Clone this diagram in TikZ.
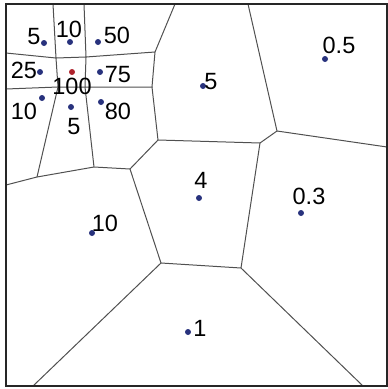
\documentclass[tikz,border=0pt]{standalone}
\usepackage{fontspec}
\setmainfont{Liberation Sans}
\definecolor{edgegray}{RGB}{80,80,80}
\definecolor{sitenavy}{RGB}{40,50,125}
\definecolor{sitered}{RGB}{175,35,45}
\begin{document}
\begin{tikzpicture}[x=1pt,y=-1pt,
  cell/.style={draw=edgegray,line width=1pt},
  frame/.style={draw=black!85,line width=1.7pt},
  site/.style={circle,fill=sitenavy,inner sep=0pt,minimum size=6pt},
  hub/.style={circle,fill=sitered,inner sep=0pt,minimum size=6pt},
  val/.style={inner sep=0pt,font=\fontsize{23.5}{23.5}\selectfont}]
\useasboundingbox (0,0) rectangle (388,389);
% frame corners and border points
\coordinate (tl) at (6,4); \coordinate (tr) at (387,4);
\coordinate (br) at (387,386); \coordinate (bl) at (6,386);
\coordinate (t1) at (53,4); \coordinate (t2) at (84,4);
\coordinate (t3) at (175,4); \coordinate (t4) at (248,4);
\coordinate (l1) at (6,53); \coordinate (l2) at (6,89); \coordinate (l3) at (6,185);
\coordinate (r1) at (387,147);
\coordinate (b1) at (33,386); \coordinate (b2) at (363,386);
% inner vertices
\coordinate (A) at (56,58); \coordinate (B) at (86,57);
\coordinate (C) at (155,52); \coordinate (D) at (58,87);
\coordinate (E) at (85,87); \coordinate (G) at (152,87);
\coordinate (F) at (158,140); \coordinate (H) at (277,131);
\coordinate (I) at (260,143); \coordinate (J) at (241,268);
\coordinate (K) at (161,263); \coordinate (L) at (130,169);
\coordinate (M) at (37,177); \coordinate (N) at (94,167);
% cell edges
\draw[cell] (t1) -- (A) -- (B) -- (t2);
\draw[cell] (l1) -- (A) -- (D) -- (l2);
\draw[cell] (B) -- (C) -- (t3);
\draw[cell] (B) -- (E);
\draw[cell] (D) -- (E) -- (G) -- (C);
\draw[cell] (G) -- (F) -- (I) -- (H) -- (t4);
\draw[cell] (H) -- (r1);
\draw[cell] (F) -- (L);
\draw[cell] (l3) -- (M) -- (N) -- (L) -- (K) -- (J) -- (I);
\draw[cell] (D) -- (M);
\draw[cell] (E) -- (N);
\draw[cell] (K) -- (b1);
\draw[cell] (J) -- (b2);
\draw[frame] (tl) rectangle (br);
% sites
\node[site] (s1) at (44,43) {};
\node[site] (s2) at (70,42) {};
\node[site] (s3) at (98,42) {};
\node[site] (s4) at (40,72) {};
\node[hub]  (s5) at (72,72) {};
\node[site] (s6) at (100,72) {};
\node[site] (s7) at (42,98) {};
\node[site] (s8) at (71,107) {};
\node[site] (s9) at (101,102) {};
\node[site] (s10) at (203,86) {};
\node[site] (s11) at (325,59) {};
\node[site] (s12) at (199,198) {};
\node[site] (s13) at (301,213) {};
\node[site] (s14) at (92,233) {};
\node[site] (s15) at (188,332) {};
% values
\node[val] (v1) at (34,37) {5};
\node[val] (v2) at (69,29) {10};
\node[val] (v3) at (117,35) {50};
\node[val] (v4) at (24,70) {25};
\node[val] (v5) at (72,86) {100};
\node[val] (v6) at (118,75) {75};
\node[val] (v7) at (24,111) {10};
\node[val] (v8) at (74,127) {5};
\node[val] (v9) at (118,111) {80};
\node[val] (v10) at (211,82) {5};
\node[val] (v11) at (339,45) {0.5};
\node[val] (v12) at (201,180) {4};
\node[val] (v13) at (309,196) {0.3};
\node[val] (v14) at (105,223) {10};
\node[val] (v15) at (200,328) {1};
\end{tikzpicture}
\end{document}
